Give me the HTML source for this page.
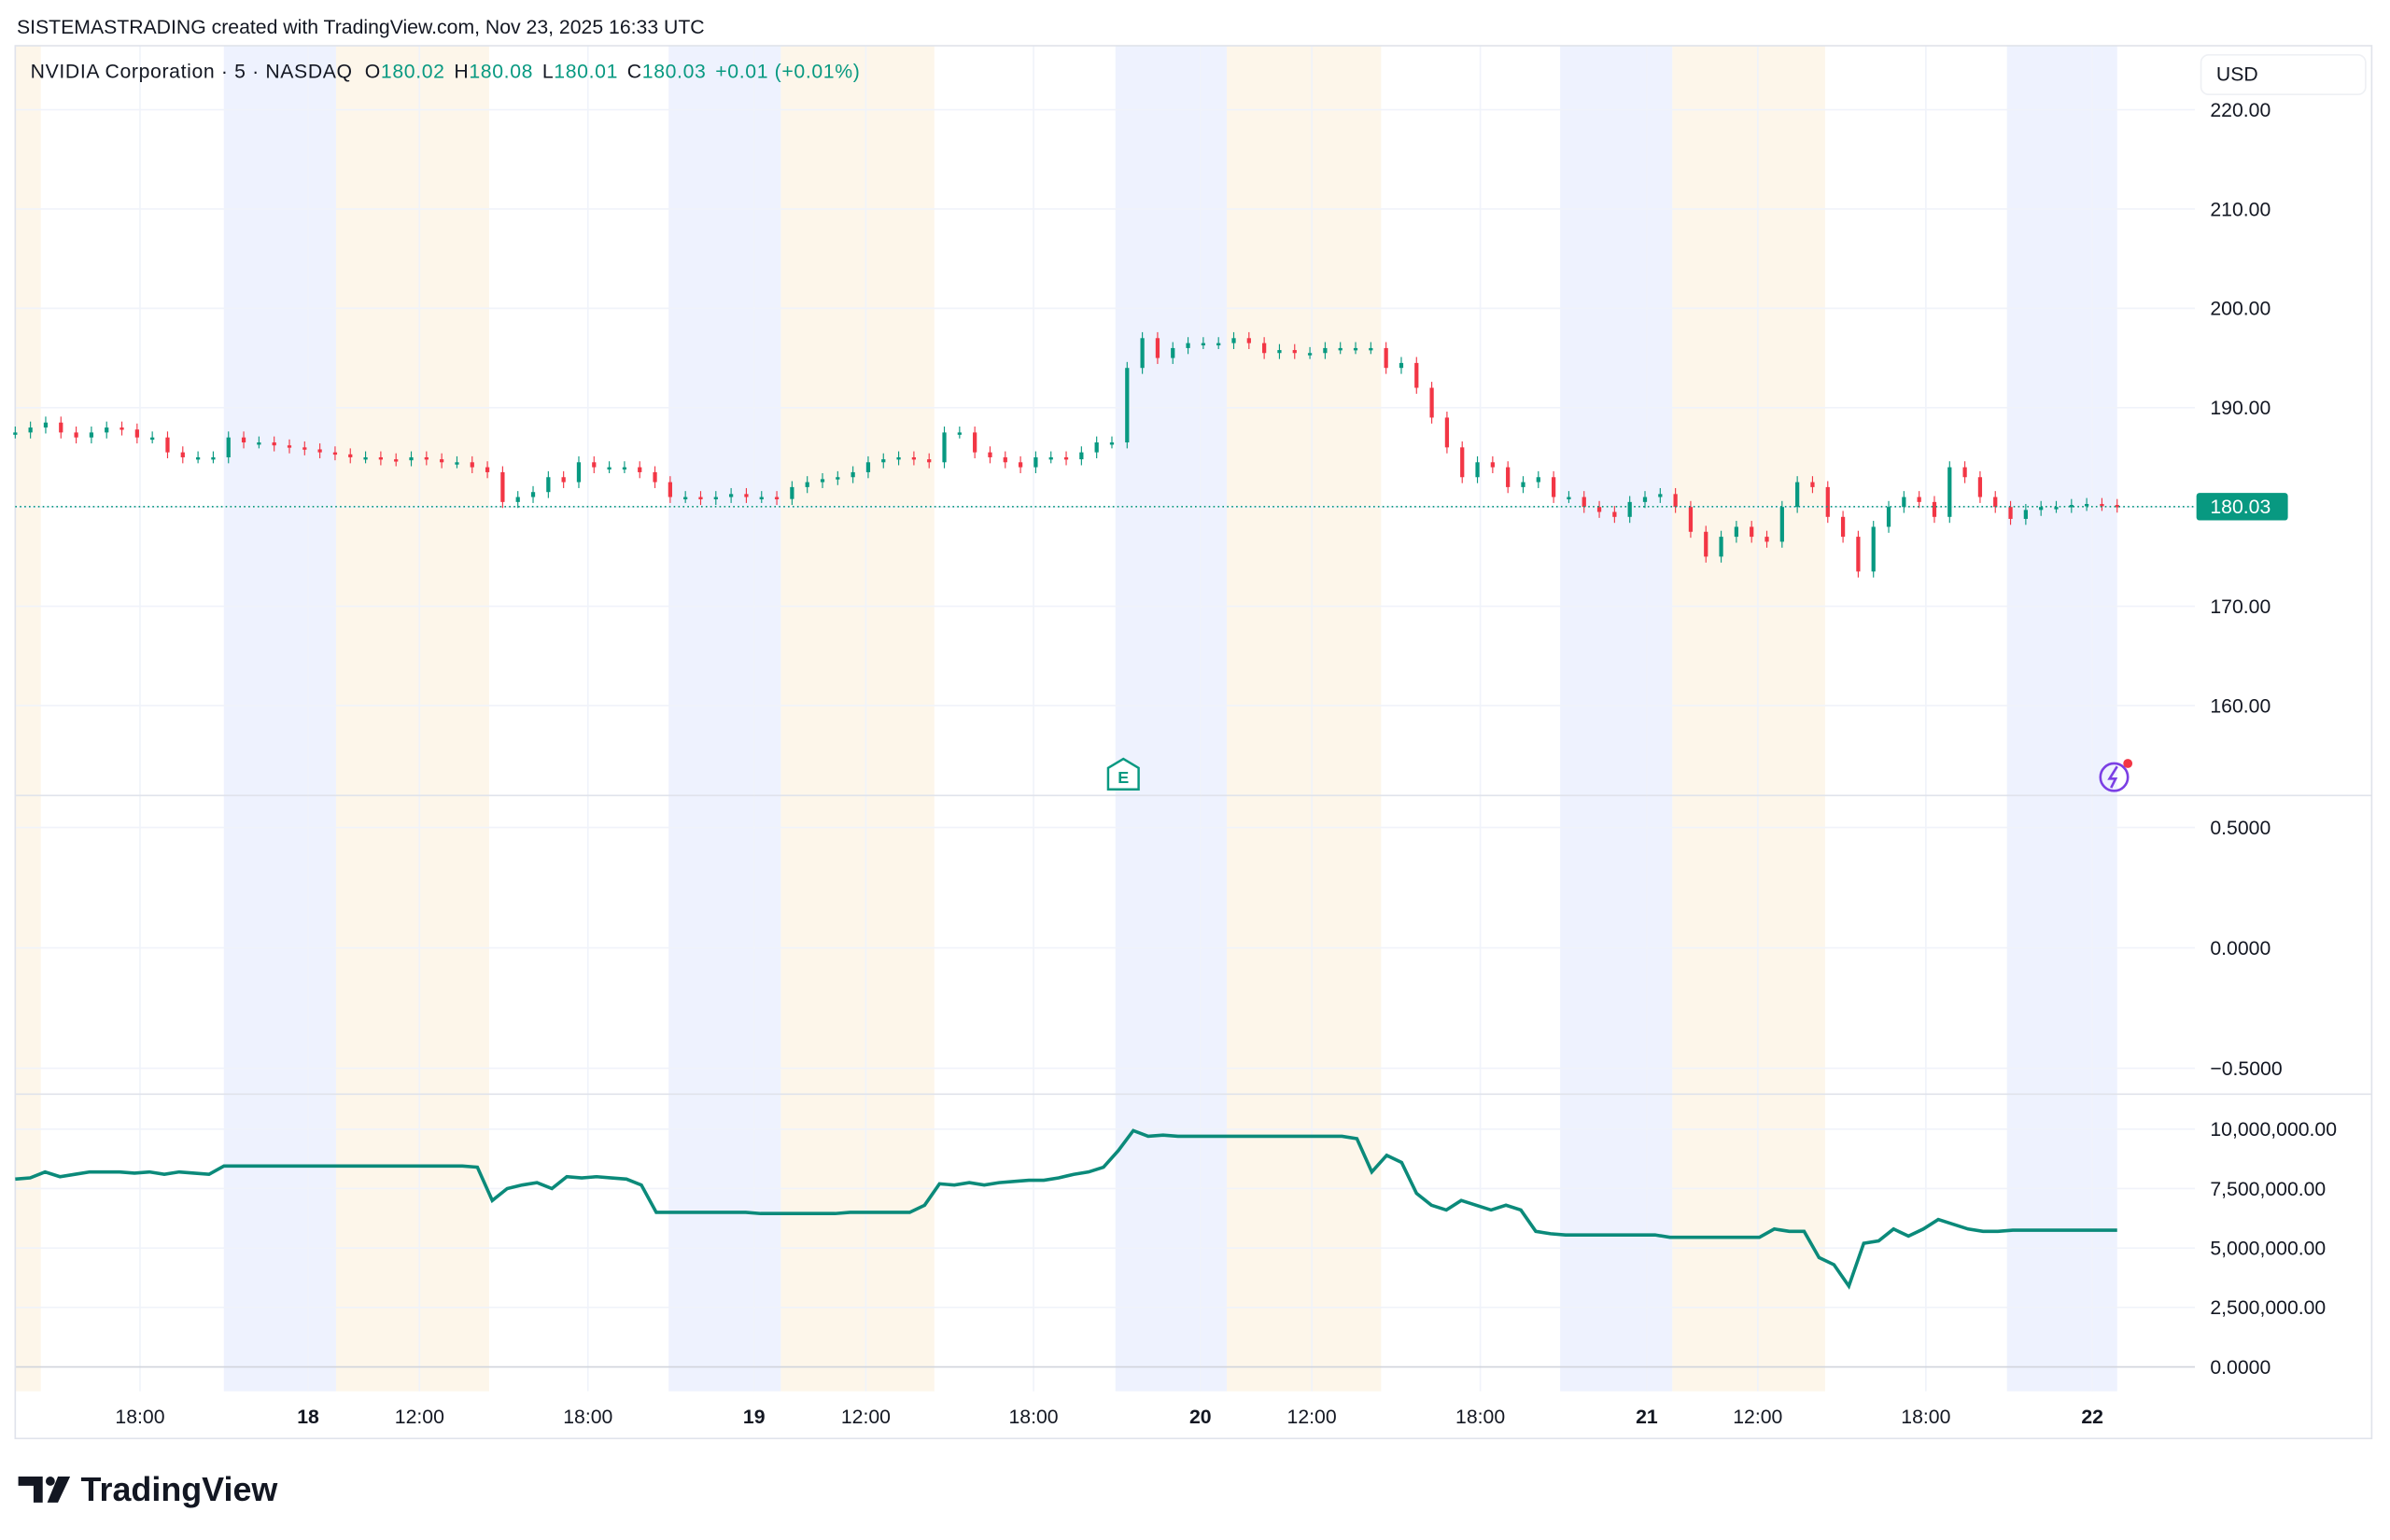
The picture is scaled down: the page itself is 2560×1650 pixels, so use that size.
<!DOCTYPE html>
<html><head><meta charset="utf-8"><style>
html,body{margin:0;padding:0;background:#fff;}
svg{display:block;font-family:"Liberation Sans",Arial,sans-serif;}
</style></head><body>
<svg id="chart" width="2560" height="1650" viewBox="0 0 1568 1010.6" xmlns="http://www.w3.org/2000/svg">
<text x="11" y="22" font-size="13" fill="#131722">SISTEMASTRADING created with TradingView.com, Nov 23, 2025 16:33 UTC</text>
<g id="bands"></g>
<g id="grid"></g>
<rect x="10" y="30" width="1546" height="914" fill="none" stroke="#e0e3eb"/>
<line x1="10" y1="522" x2="1556" y2="522" stroke="#e0e3eb"/>
<line x1="10" y1="718" x2="1556" y2="718" stroke="#e0e3eb"/>
<g id="candles"></g>
<path id="volline" fill="none" stroke="#0b8a7a" stroke-width="2.2"/>
<g id="axes"></g>
<text x="20" y="51" font-size="13" fill="#131722" textLength="544" lengthAdjust="spacing">NVIDIA Corporation · 5 · NASDAQ <tspan dx="4">O</tspan><tspan fill="#089981">180.02</tspan><tspan dx="6">H</tspan><tspan fill="#089981">180.08</tspan><tspan dx="6">L</tspan><tspan fill="#089981">180.01</tspan><tspan dx="6">C</tspan><tspan fill="#089981">180.03</tspan><tspan dx="6" fill="#089981">+0.01 (+0.01%)</tspan></text>
<rect x="1444" y="36" width="108" height="26" rx="5" fill="#fff" stroke="#eef0f4"/>
<text x="1454" y="53" font-size="13" fill="#131722">USD</text>
<g>
<path d="M737,498 L747,504 L747,518 L727,518 L727,504 Z" fill="#fff" stroke="#089981" stroke-width="1.5"/>
<text x="737" y="514" font-size="11" font-weight="bold" fill="#089981" text-anchor="middle">E</text>
</g>
<g>
<circle cx="1387" cy="510" r="9" fill="none" stroke="#7b3fe4" stroke-width="1.6"/>
<path d="M1389,503 L1384,511 L1388,511 L1385,517" fill="none" stroke="#7b3fe4" stroke-width="1.6"/>
<circle cx="1396" cy="501" r="3" fill="#f23645"/>
</g>
<g>
<path d="M12,969 L28,969 L28,986 L22,986 L22,975 L12,975 Z" fill="#131722"/>
<circle cx="33" cy="972" r="3" fill="#131722"/>
<path d="M38,969 L46,969 L38,986 L31,986 Z" fill="#131722"/>
<text x="53" y="985" font-size="22" font-weight="bold" fill="#131722">TradingView</text>
</g>
</svg>
<script>
const priceTicks=[220,210,200,190,180,170,160];
const oscTicks=[0.5,0,-0.5];
const volTicks=[10,7.5,5,2.5,0];
const volTickLabels=["10,000,000.00","7,500,000.00","5,000,000.00","2,500,000.00","0.0000"];
const timeLabels=["18:00","18","12:00","18:00","19","12:00","18:00","20","12:00","18:00","21","12:00","18:00","22"];
const timeLabelBold=[0,1,0,0,1,0,0,1,0,0,1,0,0,1];
// time label positions in session-hour units (0 = first bar)
const timeLabelHours=[3.17,7.44,10.27,14.55,18.77,21.61,25.87,30.11,32.94,37.22,41.45,44.27,48.54,52.77];
const blueBands=[[5.3,8.15],[16.6,19.45],[27.95,30.78],[39.25,42.1],[50.6,53.4]];
const orangeBands=[[0,0.65],[8.15,12.04],[19.45,23.35],[30.78,34.7],[42.1,45.98]];
const closes=[187.5,188,188.5,187.5,187,187.5,188,187.8,187,187,185.5,185,185,185,187,186.5,186.5,186.2,186,185.8,185.5,185.3,185,185,184.8,184.7,185,184.8,184.5,184.5,184,183.5,180.5,181,181.5,183,182.5,184.5,184,184,184,183.5,182.5,181,181,180.8,181,181.3,181,181,180.8,182,182.5,182.8,183,183.5,184.5,184.8,185,184.8,184.5,187.5,187.5,185.5,185,184.5,184,185,185,184.8,185.5,186.5,186.5,194,197,195,196,196.5,196.5,196.5,197,196.5,195.5,195.8,195.5,195.5,196,196,196,196,194,194.5,192,189,186,183,184.5,184,182,182.5,183,181,181,180,179.5,179,180.5,181,181.3,180,177.5,175,177,178,177,176.5,180,182.5,182,179,177,173.5,178,180,181,180.5,179,184,183,181,180,178.8,179.7,180,180,180.2,180.3,180.2,180.03];
const vol=[7.9,7.95,8.2,8.0,8.1,8.2,8.2,8.2,8.15,8.2,8.1,8.2,8.15,8.1,8.45,8.45,8.45,8.45,8.45,8.45,8.45,8.45,8.45,8.45,8.45,8.45,8.45,8.45,8.45,8.45,8.45,8.4,7.0,7.5,7.65,7.75,7.5,8.0,7.95,8.0,7.95,7.9,7.65,6.5,6.5,6.5,6.5,6.5,6.5,6.5,6.45,6.45,6.45,6.45,6.45,6.45,6.5,6.5,6.5,6.5,6.5,6.8,7.7,7.65,7.75,7.65,7.75,7.8,7.85,7.85,7.95,8.1,8.2,8.4,9.1,9.94,9.7,9.75,9.7,9.7,9.7,9.7,9.7,9.7,9.7,9.7,9.7,9.7,9.7,9.7,9.6,8.2,8.9,8.6,7.3,6.8,6.6,7.0,6.8,6.6,6.8,6.6,5.7,5.6,5.55,5.55,5.55,5.55,5.55,5.55,5.55,5.45,5.45,5.45,5.45,5.45,5.45,5.45,5.8,5.7,5.7,4.6,4.3,3.4,5.2,5.3,5.8,5.5,5.8,6.2,6.0,5.8,5.7,5.7,5.75,5.75,5.75,5.75,5.75,5.75,5.75,5.75];
const lastPrice=180.03;
const NS="http://www.w3.org/2000/svg";
const X1=1440;
const DATA_H=53.4;
function xH(h){return 10+h*(1389-10)/DATA_H;}
function xIdx(i,n){return xH(i*DATA_H/(n-1));}
function yP(p){return 72+(220-p)*6.517;}
function yO(v){return 622-v*158;}
function yV(m){return 897-m*15.6;}
function mk(tag,attrs,parent){const e=document.createElementNS(NS,tag);for(const k in attrs)e.setAttribute(k,attrs[k]);parent.appendChild(e);return e;}
const bands=document.getElementById('bands'),grid=document.getElementById('grid'),cg=document.getElementById('candles'),ax=document.getElementById('axes');
blueBands.forEach(b=>{const r=mk('rect',{x:xH(b[0]),y:30,width:xH(b[1])-xH(b[0]),height:883,fill:'#eef2fe'},bands);

});
orangeBands.forEach(b=>{const r=mk('rect',{x:xH(b[0]),y:30,width:xH(b[1])-xH(b[0]),height:883,fill:'#fdf6ea'},bands);

});
timeLabelHours.forEach((h,i)=>{const x=xH(h);
const l=mk('line',{x1:x,y1:30,x2:x,y2:913,stroke:'#f0f3fa'},grid);


const t=mk('text',{x:x,y:934,'font-size':13,fill:'#131722','text-anchor':'middle','font-weight':timeLabelBold[i]?'bold':'normal'},ax);t.textContent=timeLabels[i];

});
priceTicks.forEach(p=>{const y=yP(p);
const l=mk('line',{x1:10,y1:y,x2:X1,y2:y,stroke:'#f0f3fa'},grid);


if(p===180)return;
const t=mk('text',{x:1450,y:y+4.5,'font-size':13,fill:'#131722'},ax);t.textContent=p.toFixed(2);

});
oscTicks.forEach(v=>{const y=yO(v);
const l=mk('line',{x1:10,y1:y,x2:X1,y2:y,stroke:'#f0f3fa'},grid);


const t=mk('text',{x:1450,y:y+4.5,'font-size':13,fill:'#131722'},ax);t.textContent=(v<0?'\u2212'+(-v).toFixed(4):v.toFixed(4));

});
volTicks.forEach((v,i)=>{const y=yV(v);
const l=mk('line',{x1:10,y1:y,x2:X1,y2:y,stroke:v===0?'#d1d4dc':'#f0f3fa'},grid);


const t=mk('text',{x:1450,y:y+4.5,'font-size':13,fill:'#131722'},ax);t.textContent=volTickLabels[i];

});
// candles
for(let i=0;i<closes.length;i++){
 const o=i?closes[i-1]:closes[0],c=closes[i];
 const up=c>=o,col=up?'#089981':'#f23645';
 const x=xIdx(i,closes.length),hi=Math.max(o,c)+0.6,lo=Math.min(o,c)-0.6;
 const w=mk('line',{x1:x,x2:x,y1:yP(hi),y2:yP(lo),stroke:col,'stroke-width':0.7},cg);
 
 
 const yt=yP(Math.max(o,c)),yb=yP(Math.min(o,c));
 const b=mk('rect',{x:x-1.3,y:yt,width:2.6,height:Math.max(1.5,yb-yt),fill:col},cg);
 
 
}
// last price line + label
const lp=mk('line',{x1:10,x2:X1,y1:yP(lastPrice),y2:yP(lastPrice),stroke:'#089981','stroke-dasharray':'1 2'},ax);


const lb=mk('rect',{x:1441,y:yP(lastPrice)-9,width:60,height:18,rx:2,fill:'#089981'},ax);


const lt=mk('text',{x:1450,y:yP(lastPrice)+4.5,'font-size':13,fill:'#fff'},ax);lt.textContent=lastPrice.toFixed(2);


// indicator line
let d='';vol.forEach((v,i)=>{d+=(i?'L':'M')+xIdx(i,vol.length).toFixed(2)+','+yV(v).toFixed(2);});
document.getElementById('volline').setAttribute('d',d);
</script>
</body></html>
